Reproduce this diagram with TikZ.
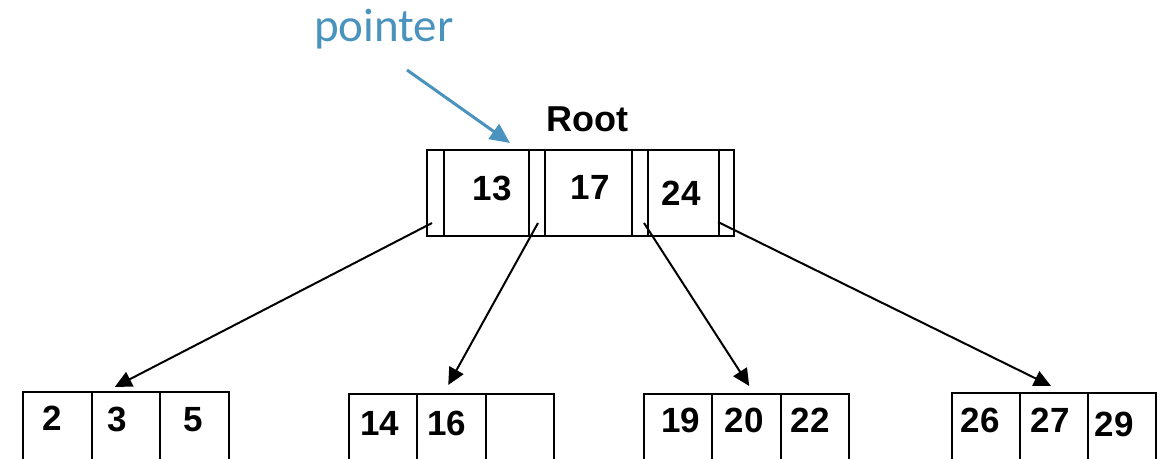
\documentclass[tikz,border=0pt]{standalone}
\usepackage{fontspec}
\setmainfont{Liberation Sans}
\newfontfamily\ptrfont{Carlito}
\usetikzlibrary{arrows.meta,calc}
\definecolor{ptrblue}{RGB}{74,147,190}
\begin{document}
\begin{tikzpicture}[x=0.5pt,y=-0.5pt,
  cell/.style={draw,line width=1pt,inner sep=0pt,anchor=north west,minimum height=43pt},
  leaf/.style={draw,line width=1pt,inner sep=0pt,anchor=north west,minimum height=45pt,minimum width=34.25pt},
  num/.style={font=\bfseries\fontsize{17.5}{20}\selectfont,inner sep=0pt,anchor=center},
  child/.style={line width=1pt,-{Triangle[length=8.5pt,width=8pt]}},
  ptr/.style={line width=1.5pt,ptrblue,-{Triangle[length=10pt,width=9pt]}}]
\useasboundingbox (0,0) rectangle (1173,459);
\clip (0,0) rectangle (1173,459);
% root node
\node[cell,minimum width=8.5pt]  (p0) at (426,149) {};
\node[cell,minimum width=42.5pt] (k1) at (443,149) {};
\node[cell,minimum width=8pt]    (p1) at (528,149) {};
\node[cell,minimum width=43.5pt] (k2) at (544,149) {};
\node[cell,minimum width=8pt]    (p2) at (631,149) {};
\node[cell,minimum width=35.5pt] (k3) at (647,149) {};
\node[cell,minimum width=7.5pt]  (p3) at (718,149) {};
\node[num] (t13) at (492,188) {13};
\node[num] (t17) at (590,187) {17};
\node[num] (t24) at (681,193) {24};
\node[font=\bfseries\fontsize{18}{20}\selectfont,inner sep=0pt] (root) at (587,119) {Root};
% pointer label
\node[font=\ptrfont\fontsize{23.5}{26}\selectfont,text=ptrblue,inner sep=0pt,anchor=base] (plabel) at (384,42) {pointer};
\coordinate (ptail) at (407,70);
\draw[ptr] (ptail) -- ($(p1.north west)+(-18,-6)$);
% leaves
\node[leaf] (a1) at (22,391) {};
\node[leaf] (a2) at (90.5,391) {};
\node[leaf] (a3) at (159,391) {};
\node[leaf] (b1) at (347.5,393) {};
\node[leaf] (b2) at (416,393) {};
\node[leaf] (b3) at (484.5,393) {};
\node[leaf] (c1) at (642.5,393) {};
\node[leaf] (c2) at (711,393) {};
\node[leaf] (c3) at (779.5,393) {};
\node[leaf,minimum width=34pt] (d1) at (951,392) {};
\node[leaf,minimum width=34pt] (d2) at (1019,392) {};
\node[leaf,minimum width=34pt] (d3) at (1087,392) {};
\node[num] (n2) at (52.5,418) {2};
\node[num] (n3) at (117,419.5) {3};
\node[num] (n5) at (193.5,419.5) {5};
\node[num] (n14) at (379.5,423.5) {14};
\node[num] (n16) at (446.5,423.5) {16};
\node[num] (n19) at (680.5,420.5) {19};
\node[num] (n20) at (744,420.5) {20};
\node[num] (n22) at (810,420.5) {22};
\node[num] (n26) at (980,420.5) {26};
\node[num] (n27) at (1050,420.5) {27};
\node[num] (n29) at (1114,424.5) {29};
% connectors
\draw[child] ($(p0.south)+(-3.5,-14)$) -- ($(a2.north)+(-11,-4)$);
\draw[child] ($(p1.south)+(1,-14)$) -- ($(b2.north)+(-3,-8)$);
\draw[child] ($(p2.south)+(4,-14)$) -- ($(c2.north)+(3,-7)$);
\draw[child] ($(p3.south west)+(0,-15)$) -- ($(d2.north)+(-3,-6)$);
\end{tikzpicture}
\end{document}
